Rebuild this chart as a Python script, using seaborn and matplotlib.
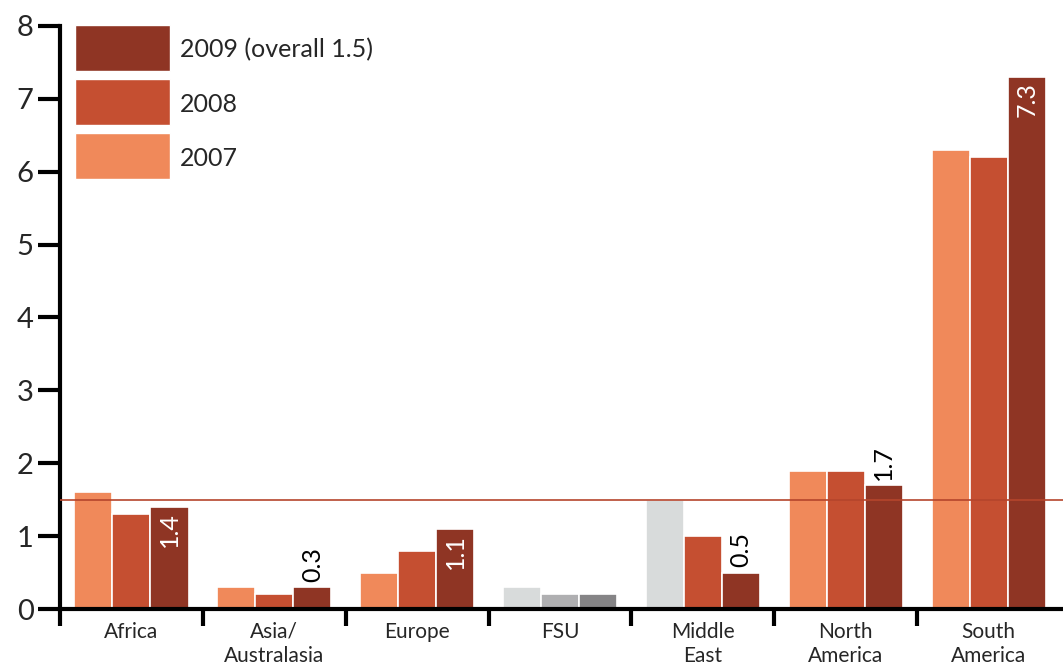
import matplotlib
matplotlib.use("Agg")
import matplotlib.pyplot as plt
from matplotlib.patches import Patch, Rectangle
from matplotlib.legend_handler import HandlerPatch
import seaborn as sns
import pandas as pd

# Regional values by year
regions = ["Africa", "Asia/\nAustralasia", "Europe", "FSU", "Middle\nEast",
           "North\nAmerica", "South\nAmerica"]
years = ["2007", "2008", "2009"]
v2007 = [1.6, 0.3, 0.5, 0.3, 1.5, 1.9, 6.3]
v2008 = [1.3, 0.2, 0.8, 0.2, 1.0, 1.9, 6.2]
v2009 = [1.4, 0.3, 1.1, 0.2, 0.5, 1.7, 7.3]
overall_2009 = 1.5
legend_labels = {"2009": "2009 (overall 1.5)", "2008": "2008", "2007": "2007"}
# 2009 value labels: "in" = inside the bar, "out" = above it, None = no label
label_pos = ["in", "out", "in", None, "out", "out", "in"]

year_colors = {"2007": "#f0895a", "2008": "#c54f31", "2009": "#8f3524"}
grey_colors = {"2007": "#d8dbdb", "2008": "#afafb1", "2009": "#858486"}
grey_bars = {("FSU", "2007"), ("FSU", "2008"), ("FSU", "2009"),
             ("Middle\nEast", "2007")}

df = pd.DataFrame({
    "region": regions * 3,
    "year": [y for y in years for _ in regions],
    "value": v2007 + v2008 + v2009,
})

sns.set_theme(style="white")
plt.rcParams["font.family"] = ["Lato", "DejaVu Sans"]

fig = plt.figure(figsize=(10.63, 6.65), dpi=100)
ax = fig.add_axes([0.0564, 0.0842, 0.9436, 0.8768])

sns.barplot(data=df, x="region", y="value", hue="year", hue_order=years,
            palette=year_colors, width=0.8, edgecolor="white", linewidth=1.2,
            saturation=1, ax=ax, legend=False)

# grey-out bars with incomplete coverage
for year, cont in zip(years, ax.containers):
    for region, bar in zip(regions, cont):
        if (region, year) in grey_bars:
            bar.set_facecolor(grey_colors[year])

# 2009 value labels
for region, bar, v, pos in zip(regions, ax.containers[2], v2009, label_pos):
    if pos is None:
        continue
    x = bar.get_x() + bar.get_width() / 2
    if pos == "in":
        ax.text(x, v - 0.07, f"{v:.1f}", rotation=90, ha="center", va="top",
                color="white", fontsize=18)
    else:
        ax.text(x, v + 0.07, f"{v:.1f}", rotation=90, ha="center", va="bottom",
                color="black", fontsize=18)

# overall average line
ax.axhline(overall_2009, color="#b5452c", lw=1.2, zorder=5)

ax.set_ylim(0, 8)
ax.set_xlim(-0.5, 6.52)
ax.set_yticks(range(0, 9))
ax.tick_params(axis="y", length=16, width=3, labelsize=21, pad=3,
               color="black", left=True)
ax.set_xticks(range(len(regions)))
ax.set_xticklabels(regions, fontsize=15, linespacing=1.3)
ax.set_xticks([i - 0.5 for i in range(len(regions))], minor=True)
ax.tick_params(axis="x", which="major", length=0, pad=9)
ax.tick_params(axis="x", which="minor", length=12, width=3, color="black",
               bottom=True)
ax.set_xlabel("")
ax.set_ylabel("")
for side in ["top", "right"]:
    ax.spines[side].set_visible(False)
for side in ["left", "bottom"]:
    ax.spines[side].set_color("black")
    ax.spines[side].set_linewidth(3)


# legend swatches fill the whole handle box, text centred on them
def full_swatch(legend, orig_handle, xdescent, ydescent, width, height, fontsize):
    ext = 0.2 * fontsize
    return Rectangle((-xdescent, -ydescent - ext), width, height + ydescent + ext)


handles = [Patch(facecolor=year_colors[y], edgecolor="white") for y in years[::-1]]
leg = ax.legend(handles, [legend_labels[y] for y in years[::-1]],
                loc="upper left", bbox_to_anchor=(0.015, 0.988), frameon=False,
                fontsize=18, handlelength=3.8, handleheight=1.66,
                labelspacing=0.84, handletextpad=0.4, borderaxespad=0,
                borderpad=0,
                handler_map={Patch: HandlerPatch(patch_func=full_swatch)})

fig.savefig("out.png", dpi=100)
